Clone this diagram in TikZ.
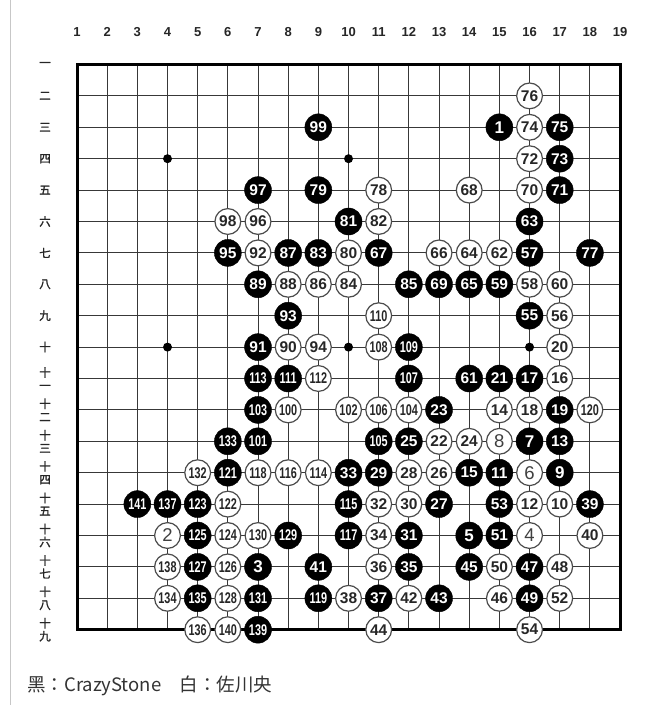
\documentclass[tikz,border=0pt]{standalone}
\usepackage{fontspec}
\usepackage{tikz}
\setmainfont{Liberation Sans}
\newfontfamily\numfont{Liberation Sans}
\newfontfamily\narrowfont[FakeStretch=0.7]{Liberation Sans}
\newfontfamily\cjkfont{Noto Sans CJK JP}
\newfontfamily\cjkheavy[FakeBold=1.6]{Noto Sans CJK JP}

\tikzset{
	goline/.style={draw=black!78, line width=0.9pt},
	goedge/.style={draw=black, line width=3pt},
	hoshi/.style={circle, fill=black, inner sep=0pt, minimum size=9pt},
	bstone/.style={circle, fill=black, draw=black, minimum size=27pt, inner sep=0pt, text=white,
		font=\numfont\bfseries\fontsize{15.5}{15.5}\selectfont},
	wstone/.style={circle, fill=white, draw=black!70, line width=1.2pt, minimum size=25.8pt, inner sep=0pt,
		text=black!85, font=\numfont\bfseries\fontsize{15.5}{15.5}\selectfont},
	narrow/.style={font=\narrowfont\bfseries\fontsize{15.5}{15.5}\selectfont},
	bone/.style={font=\numfont\bfseries\fontsize{17}{17}\selectfont},
	wone/.style={text=black!75, font=\numfont\fontsize{18.5}{18.5}\selectfont},
	collabel/.style={font=\numfont\bfseries\fontsize{13}{13}\selectfont, text=black!85},
	rowlabel/.style={align=center, font=\cjkheavy\fontsize{11.5}{13}\selectfont, text=black!85}
}

\begin{document}
\begin{tikzpicture}[x=30.17pt, y=-31.4pt]
	\useasboundingbox (-1.5522,-1.0541) rectangle (20.191,21.398);
	% Frame, board and star points:
	\draw[black!22, line width=0.8pt] (-1.221,-1.0541) -- (-1.221,21.398);
	\foreach \i in {2,...,18} {
		\draw[goline] (\i,1) -- (\i,19);
		\draw[goline] (1,\i) -- (19,\i);
	}
	\draw[goedge] (1,1) rectangle (19,19);
	\foreach \c/\r in {4/4, 10/4, 4/10, 10/10, 16/10}
		\node[hoshi] (H\c-\r) at (\c,\r){};
	% Coordinates:
	\foreach \c in {1,...,19}
		\node[collabel] (C\c) at (\c,-0.03){\c};
	\foreach \r/\t in {1/一, 2/二, 3/三, 4/四, 5/五, 6/六, 7/七, 8/八, 9/九, 10/十,
		11/{十\\一}, 12/{十\\二}, 13/{十\\三}, 14/{十\\四}, 15/{十\\五}, 16/{十\\六},
		17/{十\\七}, 18/{十\\八}, 19/{十\\九}}
		\node[rowlabel] (R\r) at (-0.06,\r){\t};
	% Black stones:
	\foreach \n/\c/\r in {99/9/3, 75/17/3, 73/17/4, 97/7/5, 79/9/5, 71/17/5, 81/10/6, 63/16/6,
		95/6/7, 87/8/7, 83/9/7, 67/11/7, 57/16/7, 77/18/7, 89/7/8, 85/12/8, 69/13/8, 65/14/8,
		59/15/8, 93/8/9, 55/16/9, 91/7/10, 61/14/11, 21/15/11, 17/16/11, 23/13/12, 19/17/12,
		25/12/13, 13/17/13, 33/10/14, 29/11/14, 15/14/14, 11/15/14, 27/13/15, 53/15/15,
		39/18/15, 31/12/16, 51/15/16, 41/9/17, 35/12/17, 45/14/17, 47/16/17, 37/11/18,
		43/13/18, 49/16/18}
		\node[bstone] (B\n) at (\c,\r){\n};
	\foreach \n/\c/\r in {109/12/10, 113/7/11, 111/8/11, 107/12/11, 103/7/12, 133/6/13,
		101/7/13, 105/11/13, 121/6/14, 141/3/15, 137/4/15, 123/5/15, 115/10/15, 125/5/16,
		129/8/16, 117/10/16, 127/5/17, 135/5/18, 131/7/18, 119/9/18, 139/7/19}
		\node[bstone, narrow] (B\n) at (\c,\r){\n};
	\foreach \n/\c/\r in {1/15/3, 7/16/13, 9/17/14, 5/14/16, 3/7/17}
		\node[bstone, bone] (B\n) at (\c,\r){\n};
	% White stones:
	\foreach \n/\c/\r in {76/16/2, 74/16/3, 72/16/4, 78/11/5, 68/14/5, 70/16/5, 98/6/6, 96/7/6,
		82/11/6, 92/7/7, 80/10/7, 66/13/7, 64/14/7, 62/15/7, 88/8/8, 86/9/8, 84/10/8, 58/16/8,
		60/17/8, 56/17/9, 90/8/10, 94/9/10, 20/17/10, 16/17/11, 14/15/12, 18/16/12, 22/13/13,
		24/14/13, 28/12/14, 26/13/14, 32/11/15, 30/12/15, 12/16/15, 10/17/15, 34/11/16,
		40/18/16, 36/11/17, 50/15/17, 48/17/17, 38/10/18, 42/12/18, 46/15/18, 52/17/18,
		44/11/19, 54/16/19}
		\node[wstone] (W\n) at (\c,\r){\n};
	\foreach \n/\c/\r in {110/11/9, 108/11/10, 112/9/11, 100/8/12, 102/10/12, 106/11/12,
		104/12/12, 120/18/12, 132/5/14, 118/7/14, 116/8/14, 114/9/14, 122/6/15, 124/6/16,
		130/7/16, 138/4/17, 126/6/17, 134/4/18, 128/6/18, 136/5/19, 140/6/19}
		\node[wstone, narrow] (W\n) at (\c,\r){\n};
	\foreach \n/\c/\r in {8/15/13, 6/16/14, 2/4/16, 4/16/16}
		\node[wstone, wone] (W\n) at (\c,\r){\n};
	% Players:
	\node[anchor=base west, inner sep=0pt, text=black!80, font=\cjkfont\fontsize{18.5}{18.5}\selectfont]
		(players) at (-0.657,20.952){黑：CrazyStone　白：佐川央};
\end{tikzpicture}
\end{document}
